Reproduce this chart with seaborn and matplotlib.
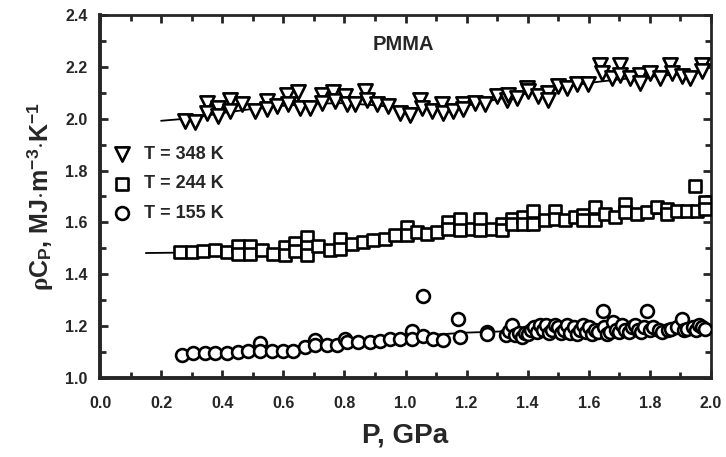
import matplotlib
matplotlib.use("Agg")
import matplotlib.pyplot as plt
import seaborn as sns
import pandas as pd
from matplotlib.ticker import MultipleLocator

# ==========================================
# Data
# ==========================================

# T = 348 K (triangles)
tri_x = [0.278, 0.311, 0.349, 0.349, 0.387, 0.387, 0.426, 0.426, 0.464, 0.507,
         0.546, 0.546, 0.578, 0.611, 0.616, 0.649, 0.655, 0.687, 0.726, 0.726,
         0.764, 0.769, 0.802, 0.807, 0.835, 0.867, 0.873, 0.906, 0.944, 0.982,
         1.015, 1.047, 1.053, 1.086, 1.118, 1.124, 1.157, 1.189, 1.189, 1.228,
         1.260, 1.299, 1.331, 1.337, 1.364, 1.397, 1.402, 1.435, 1.467, 1.467,
         1.500, 1.528, 1.560, 1.598, 1.637, 1.642, 1.675, 1.702, 1.702, 1.735,
         1.768, 1.768, 1.800, 1.833, 1.866, 1.871, 1.904, 1.931, 1.970, 1.970]
tri_y = [1.991, 1.987, 2.061, 2.023, 2.042, 2.010, 2.074, 2.029, 2.055, 2.029,
         2.068, 2.036, 2.048, 2.093, 2.055, 2.102, 2.042, 2.042, 2.093, 2.061,
         2.102, 2.068, 2.087, 2.055, 2.055, 2.106, 2.074, 2.055, 2.048, 2.023,
         2.016, 2.074, 2.042, 2.029, 2.055, 2.023, 2.029, 2.055, 2.036, 2.061,
         2.055, 2.087, 2.074, 2.093, 2.080, 2.119, 2.106, 2.087, 2.100, 2.074,
         2.125, 2.119, 2.132, 2.132, 2.208, 2.176, 2.157, 2.208, 2.170, 2.157,
         2.170, 2.138, 2.176, 2.157, 2.208, 2.176, 2.163, 2.157, 2.208, 2.183]

# T = 244 K (squares)
sq_x = [0.262, 0.300, 0.338, 0.376, 0.415, 0.453, 0.453, 0.491, 0.491, 0.529,
        0.567, 0.605, 0.605, 0.638, 0.638, 0.677, 0.677, 0.677, 0.715, 0.753,
        0.786, 0.786, 0.824, 0.862, 0.895, 0.933, 0.966, 1.004, 1.004, 1.037,
        1.069, 1.102, 1.140, 1.140, 1.178, 1.178, 1.217, 1.244, 1.244, 1.282,
        1.315, 1.315, 1.348, 1.348, 1.386, 1.386, 1.418, 1.418, 1.457, 1.489,
        1.489, 1.522, 1.555, 1.582, 1.582, 1.620, 1.620, 1.653, 1.686, 1.718,
        1.718, 1.757, 1.790, 1.822, 1.855, 1.855, 1.888, 1.921, 1.948, 1.953,
        1.980, 1.980]
sq_y = [1.486, 1.486, 1.490, 1.495, 1.486, 1.508, 1.480, 1.508, 1.480, 1.493,
        1.480, 1.505, 1.473, 1.521, 1.490, 1.544, 1.505, 1.473, 1.508, 1.495,
        1.537, 1.499, 1.518, 1.525, 1.531, 1.537, 1.550, 1.582, 1.550, 1.563,
        1.557, 1.563, 1.601, 1.576, 1.614, 1.569, 1.576, 1.614, 1.569, 1.576,
        1.595, 1.569, 1.614, 1.595, 1.620, 1.595, 1.646, 1.595, 1.608, 1.646,
        1.614, 1.608, 1.620, 1.627, 1.608, 1.659, 1.608, 1.633, 1.620, 1.672,
        1.640, 1.633, 1.640, 1.659, 1.653, 1.633, 1.646, 1.646, 1.742, 1.646,
        1.678, 1.653]

# T = 155 K (circles)
circ_x = [0.267, 0.305, 0.344, 0.376, 0.415, 0.453, 0.486, 0.524, 0.524, 0.562,
          0.600, 0.633, 0.671, 0.704, 0.704, 0.742, 0.775, 0.802, 0.807, 0.846,
          0.884, 0.917, 0.949, 0.982, 1.020, 1.020, 1.058, 1.058, 1.091, 1.124,
          1.173, 1.178, 1.266, 1.266, 1.33, 1.34, 1.35, 1.36, 1.37, 1.38,
          1.39, 1.40, 1.41, 1.42, 1.43, 1.44, 1.45, 1.46, 1.47, 1.48,
          1.49, 1.50, 1.51, 1.52, 1.53, 1.54, 1.55, 1.56, 1.57, 1.58,
          1.59, 1.60, 1.61, 1.62, 1.63, 1.648, 1.65, 1.66, 1.67, 1.68,
          1.69, 1.70, 1.71, 1.72, 1.73, 1.74, 1.75, 1.76, 1.77, 1.78,
          1.790, 1.80, 1.81, 1.83, 1.84, 1.86, 1.87, 1.89, 1.904, 1.91,
          1.92, 1.94, 1.95, 1.96, 1.97, 1.98]
circ_y = [1.090, 1.095, 1.095, 1.098, 1.095, 1.100, 1.103, 1.135, 1.106, 1.106,
          1.106, 1.106, 1.120, 1.145, 1.126, 1.126, 1.126, 1.150, 1.138, 1.138,
          1.138, 1.141, 1.149, 1.151, 1.183, 1.151, 1.318, 1.161, 1.151, 1.148,
          1.228, 1.158, 1.178, 1.168, 1.165, 1.180, 1.205, 1.165, 1.175, 1.160,
          1.175, 1.168, 1.185, 1.195, 1.178, 1.205, 1.185, 1.205, 1.175, 1.185,
          1.205, 1.195, 1.175, 1.185, 1.205, 1.175, 1.195, 1.168, 1.185, 1.205,
          1.178, 1.195, 1.168, 1.185, 1.178, 1.260, 1.195, 1.168, 1.178, 1.215,
          1.185, 1.178, 1.205, 1.185, 1.178, 1.195, 1.205, 1.185, 1.178, 1.195,
          1.260, 1.185, 1.195, 1.185, 1.178, 1.185, 1.188, 1.195, 1.228, 1.185,
          1.188, 1.195, 1.185, 1.205, 1.195, 1.188]

# fitted curves
fit348_x = [0.20, 0.30, 0.40, 0.50, 0.60, 0.70, 0.80, 0.90, 1.00, 1.10,
            1.20, 1.30, 1.40, 1.50, 1.60, 1.70, 1.80, 1.90, 1.98]
fit348_y = [1.992, 2.002, 2.022, 2.038, 2.050, 2.058, 2.060, 2.052, 2.040, 2.038,
            2.050, 2.075, 2.098, 2.118, 2.138, 2.152, 2.162, 2.172, 2.180]

fit244_x = [0.15, 0.30, 0.50, 0.70, 0.90, 1.10, 1.30, 1.50, 1.70, 1.90, 1.98]
fit244_y = [1.482, 1.484, 1.491, 1.505, 1.525, 1.549, 1.574, 1.598, 1.620, 1.640, 1.648]

fit155_x = [0.25, 0.40, 0.60, 0.80, 1.00, 1.20, 1.40, 1.60, 1.80, 1.98]
fit155_y = [1.092, 1.102, 1.118, 1.138, 1.160, 1.175, 1.183, 1.189, 1.194, 1.198]

labels = ["T = 348 K", "T = 244 K", "T = 155 K"]

# ==========================================
# Style
# ==========================================

sns.set_style("ticks")
plt.rcParams["font.family"] = ["Liberation Sans", "DejaVu Sans"]
plt.rcParams["font.weight"] = "bold"
plt.rcParams["mathtext.fontset"] = "custom"
plt.rcParams["mathtext.rm"] = "Liberation Sans:bold"
plt.rcParams["mathtext.bf"] = "Liberation Sans:bold"
plt.rcParams["mathtext.it"] = "Liberation Serif"

fig = plt.figure(figsize=(7.26, 4.57), dpi=100)
ax = fig.add_axes([100 / 726, 1 - 378 / 457, 611 / 726, 363 / 457])

# ==========================================
# Plot
# ==========================================

sns.lineplot(x=fit348_x, y=fit348_y, color="black", lw=1.3, ax=ax, sort=False)
sns.lineplot(x=fit244_x, y=fit244_y, color="black", lw=1.3, ax=ax, sort=False)
sns.lineplot(x=fit155_x, y=fit155_y, color="black", lw=1.3, ax=ax, sort=False)

sns.scatterplot(x=tri_x, y=tri_y, marker="v", s=105, facecolor="white",
                edgecolor="black", linewidth=1.9, ax=ax, label=labels[0], zorder=3)
sns.scatterplot(x=sq_x, y=sq_y, marker="s", s=75, facecolor="white",
                edgecolor="black", linewidth=1.9, ax=ax, label=labels[1], zorder=3)
sns.scatterplot(x=circ_x, y=circ_y, marker="o", s=85, facecolor="white",
                edgecolor="black", linewidth=1.9, ax=ax, label=labels[2], zorder=3)

ax.set_xlim(0.0, 2.0)
ax.set_ylim(1.0, 2.4)
ax.xaxis.set_major_locator(MultipleLocator(0.2))
ax.xaxis.set_minor_locator(MultipleLocator(0.1))
ax.yaxis.set_major_locator(MultipleLocator(0.2))
ax.yaxis.set_minor_locator(MultipleLocator(0.1))
ax.xaxis.set_major_formatter(plt.FormatStrFormatter("%.1f"))
ax.yaxis.set_major_formatter(plt.FormatStrFormatter("%.1f"))

ax.tick_params(which="both", direction="in", top=True, right=True, width=2,
               labelsize=11.5)
ax.tick_params(axis="x", pad=13)
ax.tick_params(axis="y", pad=9)
ax.tick_params(which="major", length=6)
ax.tick_params(which="minor", length=4)
for lab in ax.get_xticklabels() + ax.get_yticklabels():
    lab.set_fontweight("bold")

for side in ["left", "bottom"]:
    ax.spines[side].set_linewidth(2.8)
for side in ["top", "right"]:
    ax.spines[side].set_linewidth(2.0)

ax.set_xlabel("P, GPa", fontsize=20, fontweight="bold", labelpad=8)
ax.set_ylabel(r"$\mathit{\rho}$C$_\mathbf{P}$, MJ$\cdot$m$^\mathbf{-3}$$\cdot$K$^\mathbf{-1}$",
              fontsize=18, fontweight="bold", labelpad=7)

ax.text(0.894, 2.285, "PMMA", fontsize=14.5, fontweight="bold", va="center")

leg = ax.legend(loc="upper left", bbox_to_anchor=(0.006, 0.665), frameon=False,
                handlelength=1.0, handletextpad=0.75, labelspacing=0.7,
                borderpad=0, prop={"size": 13, "weight": "bold"})

fig.savefig("out.png", dpi=100)
plt.close(fig)
